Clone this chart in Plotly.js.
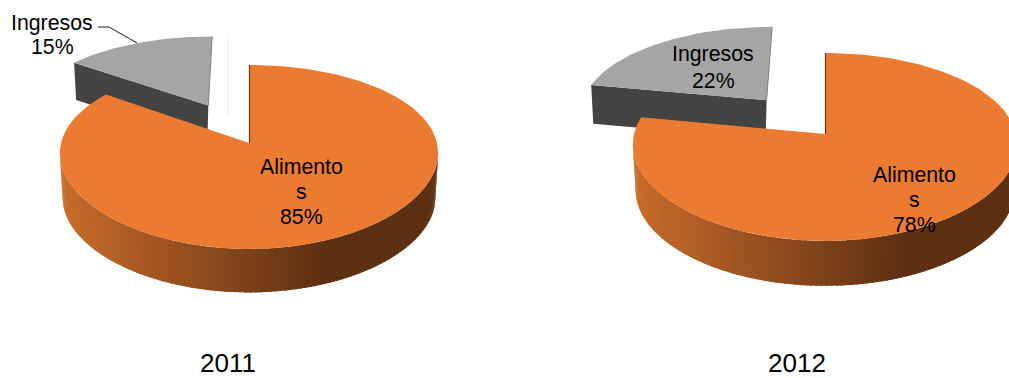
<!DOCTYPE html>
<html>
<head>
<meta charset="utf-8">
<script src="https://cdn.plot.ly/plotly-3.0.1.min.js"></script>
<style>html,body{margin:0;padding:0;background:#fff;overflow:hidden}</style>
</head>
<body>
<div id="chart" style="width:1009px;height:378px"></div>
<script>
// Share of each category per year
const years = ['2011', '2012'];
const alimentos = [85, 78];
const ingresos = [15, 22];
const alimentosLines = ['Alimento', 's'];
const ingresosLabel = 'Ingresos';

// Perspective geometry of each tilted pie, in plot units
const pies = [
  {ax: 249, ay: 143, R: 188, S: 89.9, k: 0.152, depth: 45, shadeEnd: 323},
  {ax: 825, ay: 134, R: 191, S: 92.2, k: 0.138, depth: 46.5, shadeEnd: 903}
];
const labelSpots = [
  {al: [301, 167, 25], ing: [52, 23, 24]},
  {al: [914, 175, 25], ing: [713, 54, 27]}
];
const titleCentres = [228, 797];
const KX = 0.11, EXPLODE = 0.5;
const ORANGE = '#ea7b30', GREY = '#a5a5a5', DARK = '#434343';
const FONT = 'Liberation Sans, Arial, sans-serif';

function project(p, u, v, drop, shrink) {
  const s = shrink || 1;
  return [p.ax + p.R * s * u / (1 + KX * v),
          p.ay + (drop || 0) - p.S * s * v / (1 + p.k * v)];
}
// Point on the rim at clockwise angle deg, optionally pushed out along a direction
function rim(p, deg, off, drop, shrink) {
  const t = deg * Math.PI / 180;
  return project(p, (off ? off[0] : 0) + Math.sin(t), (off ? off[1] : 0) + Math.cos(t), drop, shrink);
}
function poly(pts, color, line) {
  return {x: pts.map(q => q[0]), y: pts.map(q => q[1]), mode: 'lines', fill: 'toself',
          fillcolor: color, line: line || {width: 0}, hoverinfo: 'skip', showlegend: false};
}
function path(pts, color, width) {
  return {x: pts.map(q => q[0]), y: pts.map(q => q[1]), mode: 'lines',
          line: {color: color, width: width}, hoverinfo: 'skip', showlegend: false};
}
function mix(t) {
  const a = [201, 108, 43], b = [94, 48, 18];
  const c = a.map((v, i) => Math.round(v + (b[i] - v) * t));
  return 'rgb(' + c.join(',') + ')';
}
function range(from, to, n) {
  const out = [];
  for (let i = 0; i <= n; i++) out.push(from + (to - from) * i / n);
  return out;
}

const traces = [];
const annotations = [];
pies.forEach((p, i) => {
  const share = alimentos[i] / (alimentos[i] + ingresos[i]);
  const end = 360 * share;
  // Exploded slice
  const mid = (end + 360) / 2 * Math.PI / 180;
  const off = [EXPLODE * Math.sin(mid), EXPLODE * Math.cos(mid)];
  const apex = project(p, off[0], off[1]);
  const corner = rim(p, end, off);
  const greyDrop = p.depth * 0.83;
  traces.push(poly([apex, corner, [corner[0] + 2, corner[1] + greyDrop], [apex[0] - 1, apex[1] + greyDrop]], DARK));
  const arc = range(end, 360, 40).map(d => rim(p, d, off));
  traces.push(poly([apex].concat(arc), GREY));
  traces.push(path([apex, arc[arc.length - 1]], '#7f7f7f', 1));

  // Shaded rim of the main slice, drawn as narrow overlapping bands
  const from = 96, to = 264, steps = 120;
  const minX = p.ax - p.R;
  for (let s = 0; s < steps; s++) {
    const a = to - (to - from) * s / steps;
    const b = to - (to - from) * Math.min(steps, s + 1.6) / steps;
    const t0 = rim(p, a), t1 = rim(p, b);
    const b0 = rim(p, a, null, p.depth, 0.985), b1 = rim(p, b, null, p.depth, 0.985);
    const cx = (t0[0] + t1[0]) / 2;
    const shade = Math.max(0, Math.min(1, (cx - minX) / (p.shadeEnd - minX)));
    traces.push(poly([t0, t1, b1, b0], mix(shade)));
  }
  // Top face of the main slice
  const top = range(0, end, 160).map(d => rim(p, d));
  const centre = project(p, 0, 0);
  traces.push(poly([centre].concat(top), ORANGE));
  traces.push(path([[centre[0] + 0.5, centre[1]], [top[0][0] + 0.5, top[0][1]]], '#6e3a16', 1.2));

  // Value labels, one annotation per line
  const put = (txt, x, y) => annotations.push({x: x, y: y, text: txt, showarrow: false, xanchor: 'center',
    yanchor: 'middle', font: {family: FONT, size: 21.3, color: '#000'}});
  const sa = labelSpots[i].al;
  alimentosLines.concat([alimentos[i] + '%']).forEach((l, j) => put(l, sa[0], sa[1] + j * sa[2]));
  const si = labelSpots[i].ing;
  [ingresosLabel, ingresos[i] + '%'].forEach((l, j) => put(l, si[0], si[1] + j * si[2]));
  // Year caption sits on the bottom edge of the page
  annotations.push({x: titleCentres[i], y: 378, text: years[i], showarrow: false, borderpad: 0, borderwidth: 0,
    xanchor: 'center', yanchor: 'bottom', font: {family: FONT, size: 26, color: '#000'}});
});

// Leader line for the first outside label and the faint guide beside its slice
traces.push(path([[98, 27], [109, 27], [137, 43]], '#1a1a1a', 1));
traces.push(path([[228, 34], [228, 117]], '#e6eaf2', 1));

Plotly.newPlot('chart', traces, {
  width: 1009, height: 378,
  margin: {l: 0, r: 0, t: 0, b: 0},
  paper_bgcolor: '#fff', plot_bgcolor: '#fff',
  xaxis: {range: [0, 1009], visible: false, fixedrange: true},
  yaxis: {range: [378, 0], visible: false, fixedrange: true},
  annotations: annotations,
  showlegend: false
}, {displayModeBar: false, staticPlot: true});
</script>
</body>
</html>
